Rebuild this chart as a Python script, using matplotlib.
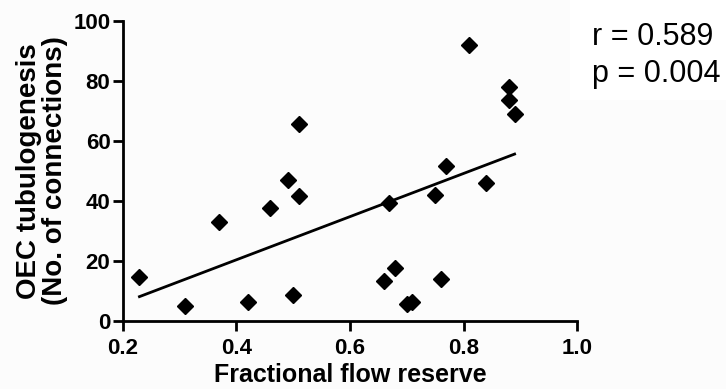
import numpy as np
import matplotlib
matplotlib.use("Agg")
import matplotlib.pyplot as plt

plt.rcParams['font.family'] = ['Liberation Sans', 'DejaVu Sans']

ffr = [0.229, 0.31, 0.369, 0.42, 0.459, 0.49, 0.50, 0.51, 0.51,
       0.669, 0.66, 0.68, 0.70, 0.709, 0.75, 0.769, 0.76, 0.81,
       0.839, 0.88, 0.88, 0.89]
tubulo = [14.6, 5.1, 33.0, 6.2, 37.6, 46.9, 8.6, 41.6, 65.7,
          39.2, 13.3, 17.8, 5.7, 6.3, 42.0, 51.8, 14.0, 92.0,
          46.0, 78.1, 73.7, 68.9]
x_ticks = [0.2, 0.4, 0.6, 0.8, 1.0]
y_ticks = [0, 20, 40, 60, 80, 100]
stats_lines = ["r = 0.589", "p = 0.004"]

fig = plt.figure(figsize=(7.26, 3.89), dpi=100, facecolor='#fcfcfc')
ax = fig.add_axes([0.1694, 0.1748, 0.6254, 0.7712])
ax.set_facecolor('#fcfcfc')

x = np.array(ffr)
y = np.array(tubulo)
ax.plot(x, y, 'D', color='black', markersize=8, linestyle='none', clip_on=False)
k, b = np.polyfit(x, y, 1)
xl = np.array([x.min(), x.max()])
ax.plot(xl, k * xl + b, color='black', linewidth=2)

ax.set_xlim(0.2, 1.0)
ax.set_ylim(0, 100)
ax.set_xticks(x_ticks)
ax.set_xticklabels([f"{v:.1f}" for v in x_ticks])
ax.set_yticks(y_ticks)
ax.set_yticklabels([str(v) for v in y_ticks])
for s in ['top', 'right']:
    ax.spines[s].set_visible(False)
for s in ['left', 'bottom']:
    ax.spines[s].set_linewidth(2)
ax.tick_params(width=2, length=7, direction='out', labelsize=16, pad=2)
ax.tick_params(axis='x', pad=5)
for lab in ax.get_xticklabels() + ax.get_yticklabels():
    lab.set_fontweight('bold')

ax.set_xlabel("Fractional flow reserve", fontsize=18, fontweight='bold', labelpad=3)
ax.set_ylabel("OEC tubulogenesis\n(No. of connections)", fontsize=20,
              fontweight='bold', labelpad=4, linespacing=1.0)

fig.patches.append(plt.Rectangle((570 / 726, 1 - 100 / 389), 156 / 726, 100 / 389,
                                 transform=fig.transFigure, facecolor='white',
                                 edgecolor='none', zorder=0))
for i, line in enumerate(stats_lines):
    fig.text(592 / 726, 1 - (45 + 37 * i) / 389, line, fontsize=22,
             va='baseline', ha='left')

fig.savefig("out.png", dpi=100, facecolor=fig.get_facecolor())
